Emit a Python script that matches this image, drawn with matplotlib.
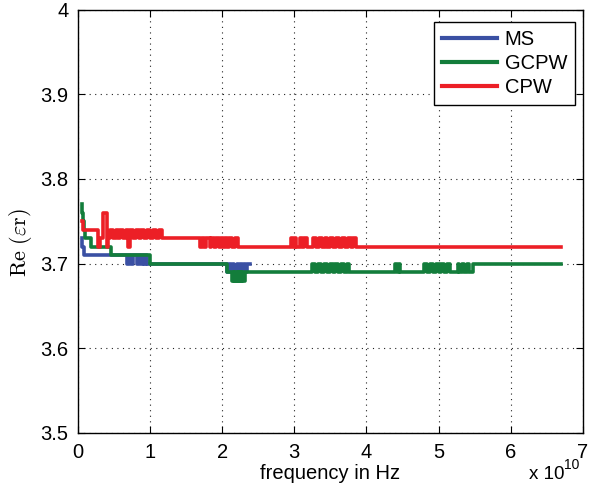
import matplotlib
matplotlib.use("Agg")
import matplotlib.pyplot as plt

plt.rcParams["font.family"] = ["Liberation Sans", "DejaVu Sans"]
plt.rcParams["mathtext.fontset"] = "cm"

# frequency in units of 1e10 Hz, Re(eps_r) as step values
ms_freq = [0.05, 0.06, 0.08, 0.68, 0.71, 0.73, 0.76, 0.82, 0.85, 0.87, 0.90,
           0.92, 0.94, 0.96, 2.07, 2.10, 2.12, 2.15, 2.17, 2.20, 2.22, 2.25,
           2.27, 2.30, 2.32, 2.35, 2.38]
ms_eps = [3.73, 3.72, 3.71, 3.70, 3.71, 3.70, 3.71, 3.70, 3.71, 3.70, 3.71,
          3.70, 3.71, 3.70, 3.69, 3.70, 3.69, 3.70, 3.69, 3.70, 3.69, 3.70,
          3.69, 3.70, 3.69, 3.70, 3.70]

gcpw_freq = [0.05, 0.06, 0.07, 0.08, 0.10, 0.18, 0.46, 1.00, 2.07, 2.14,
             2.16, 2.17, 2.19, 2.20, 2.22, 2.23, 2.25, 2.26, 2.28, 2.29, 2.31,
             3.25, 3.29, 3.33, 3.37, 3.41, 3.45, 3.49, 3.53, 3.57, 3.61, 3.65,
             3.69, 3.73, 3.76, 3.80,
             4.40, 4.42, 4.45, 4.47,
             4.80, 4.84, 4.88, 4.92, 4.96, 5.00, 5.04, 5.08, 5.12, 5.16, 5.20,
             5.27, 5.29, 5.33, 5.35, 5.40, 5.42, 5.48, 6.70]
gcpw_eps = [3.77, 3.76, 3.75, 3.74, 3.73, 3.72, 3.71, 3.70, 3.69, 3.68,
            3.69, 3.68, 3.69, 3.68, 3.69, 3.68, 3.69, 3.68, 3.69, 3.68, 3.69,
            3.70, 3.69, 3.70, 3.69, 3.70, 3.69, 3.70, 3.69, 3.70, 3.69, 3.70,
            3.69, 3.70, 3.69, 3.69,
            3.70, 3.69, 3.70, 3.69,
            3.70, 3.69, 3.70, 3.69, 3.70, 3.69, 3.70, 3.69, 3.70, 3.69, 3.69,
            3.70, 3.69, 3.70, 3.69, 3.70, 3.69, 3.70, 3.70]

cpw_freq = [0.05, 0.07, 0.28, 0.31, 0.34, 0.40, 0.42, 0.45, 0.48, 0.52, 0.55,
            0.58, 0.62, 0.66, 0.69, 0.72, 0.76, 0.80, 0.84, 0.88, 0.92, 0.96,
            1.00, 1.04, 1.08, 1.12, 1.16, 1.20,
            1.69, 1.72, 1.75, 1.78, 1.83, 1.85, 1.89, 1.92, 1.95, 1.98, 2.01,
            2.04, 2.07, 2.10, 2.14, 2.18, 2.22,
            2.95, 2.98, 3.01, 3.03, 3.08, 3.11, 3.14, 3.18,
            3.26, 3.30, 3.34, 3.38, 3.42, 3.46, 3.50, 3.54, 3.58, 3.62, 3.66,
            3.70, 3.74, 3.78, 3.82, 3.86, 3.91, 6.70]
cpw_eps = [3.75, 3.74, 3.72, 3.73, 3.76, 3.72, 3.73, 3.74, 3.73, 3.74, 3.73,
           3.74, 3.73, 3.74, 3.72, 3.74, 3.73, 3.74, 3.73, 3.74, 3.73, 3.74,
           3.73, 3.74, 3.73, 3.74, 3.73, 3.73,
           3.72, 3.73, 3.72, 3.73, 3.72, 3.73, 3.72, 3.73, 3.72, 3.73, 3.72,
           3.73, 3.72, 3.73, 3.72, 3.73, 3.72,
           3.73, 3.72, 3.73, 3.72, 3.73, 3.72, 3.73, 3.72,
           3.73, 3.72, 3.73, 3.72, 3.73, 3.72, 3.73, 3.72, 3.73, 3.72, 3.73,
           3.72, 3.73, 3.72, 3.73, 3.72, 3.72, 3.72]

x_ticks = [0, 1, 2, 3, 4, 5, 6, 7]
y_ticks = [3.5, 3.6, 3.7, 3.8, 3.9, 4.0]
y_labels = ["3.5", "3.6", "3.7", "3.8", "3.9", "4"]

fig = plt.figure(figsize=(5.91, 4.88), dpi=100)
ax = fig.add_axes([0.132, 0.113, 0.854, 0.867])

lw = 2.6
ax.plot(ms_freq, ms_eps, drawstyle="steps-post", color="#3a50a3", lw=lw, label="MS")
ax.plot(gcpw_freq, gcpw_eps, drawstyle="steps-post", color="#137d3b", lw=lw, label="GCPW")
ax.plot(cpw_freq, cpw_eps, drawstyle="steps-post", color="#ec1f26", lw=lw, label="CPW")

ax.set_xlim(0, 7)
ax.set_ylim(3.5, 4.0)
ax.set_xticks(x_ticks)
ax.set_yticks(y_ticks)
ax.set_yticklabels(y_labels)
ax.tick_params(direction="in", length=5, width=0.8, top=True, right=True,
               labelsize=14.5, pad=7)
ax.grid(True, color="#222222", linestyle=(0, (1, 4)), linewidth=0.8)
for s in ax.spines.values():
    s.set_linewidth(1.0)

ax.set_xlabel("frequency in Hz", fontsize=14.5, labelpad=2)
ax.set_ylabel(r"$\mathrm{Re}\ (\varepsilon\mathrm{r})$", fontsize=16)
ax.yaxis.set_label_coords(-0.088, 0.45)

leg = ax.legend(loc="upper right", fontsize=14.5, handlelength=2.7,
                fancybox=False, framealpha=1, edgecolor="black",
                bbox_to_anchor=(0.985, 0.972), borderaxespad=0,
                labelspacing=0.25, handletextpad=0.4, borderpad=0.4)
leg.get_frame().set_linewidth(1.0)
for h in leg.get_lines():
    h.set_linewidth(3.0)

fig.text(529 / 591, 5 / 488, "x 10", fontsize=13.5, ha="left", va="bottom")
fig.text(564 / 591, 16 / 488, "10", fontsize=10, ha="left", va="bottom")

fig.savefig("out.png", dpi=100)
